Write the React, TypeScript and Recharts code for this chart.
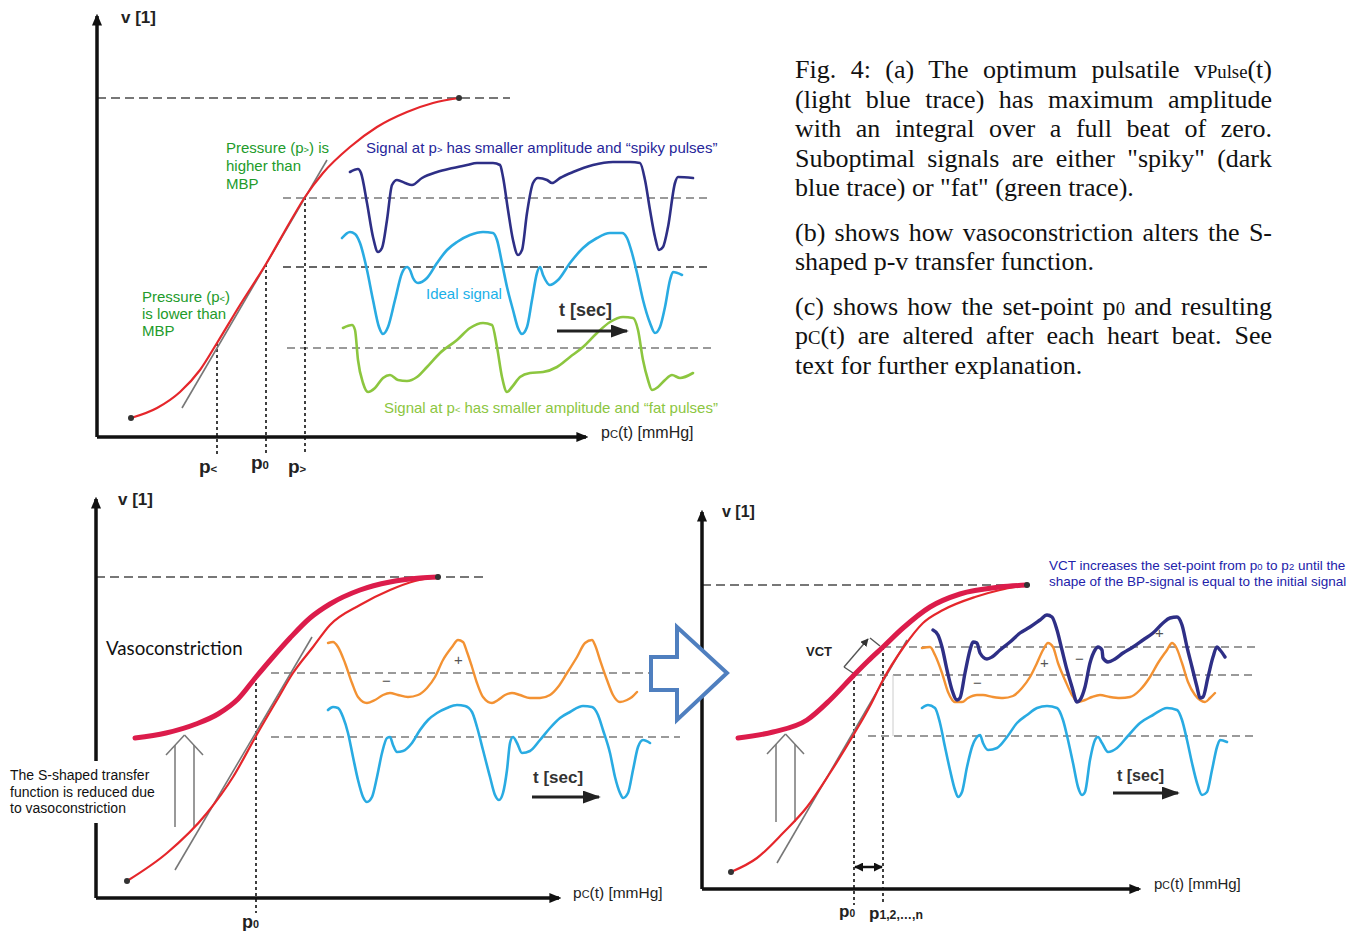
import React from "react";
import { ComposedChart, Line, XAxis, YAxis, ReferenceLine, ReferenceDot } from "recharts";

type Pt = [number, number];

// all panels use arbitrary p / v units, origin at the axis corner

// ---- (a) transfer function and the three pulse shapes
const curveA: Pt[] = [[34, 19], [60, 29], [83, 45], [103, 67], [120, 94], [143, 132], [169, 173], [193, 215], [208, 240], [226, 264], [253, 290], [280, 310], [310, 325], [336, 334], [362, 339]];
const tangentA: Pt[] = [[85, 29], [230, 277]];
const spikyA: Pt[] = [[253, 265], [261, 268], [264, 264], [270, 234], [276, 200], [281, 185], [285, 189], [290, 217], [295, 252], [300, 257], [308, 254], [315, 252], [325, 259], [340, 265], [356, 269], [370, 272], [380, 274], [396, 274], [403, 272], [406, 260], [411, 227], [416, 197], [421, 182], [425, 187], [430, 224], [436, 254], [441, 259], [450, 257], [455, 254], [463, 259], [476, 265], [496, 272], [516, 275], [533, 275], [543, 274], [548, 257], [553, 227], [558, 200], [562, 187], [566, 190], [571, 210], [578, 254], [581, 260], [596, 259]];
const idealA: Pt[] = [[245, 199], [253, 205], [258, 203], [263, 194], [270, 167], [276, 137], [282, 110], [286, 103], [291, 110], [298, 137], [305, 164], [310, 170], [313, 167], [316, 159], [321, 154], [330, 159], [340, 174], [350, 187], [360, 195], [373, 202], [386, 205], [396, 204], [400, 197], [405, 174], [410, 150], [416, 127], [421, 109], [425, 103], [430, 110], [435, 137], [440, 164], [443, 170], [446, 162], [453, 152], [461, 157], [473, 174], [486, 189], [500, 199], [513, 204], [525, 204], [530, 199], [535, 184], [540, 164], [546, 137], [553, 114], [558, 104], [563, 110], [568, 130], [573, 157], [576, 165], [585, 162]];
const fatA: Pt[] = [[246, 109], [255, 112], [258, 107], [261, 77], [266, 54], [271, 45], [278, 49], [286, 59], [293, 62], [301, 57], [310, 56], [320, 60], [330, 70], [343, 84], [360, 97], [373, 109], [386, 114], [395, 112], [400, 90], [405, 60], [410, 45], [415, 50], [423, 60], [433, 64], [446, 65], [460, 70], [473, 80], [486, 90], [500, 104], [513, 115], [526, 120], [536, 119], [541, 107], [546, 77], [551, 57], [555, 47], [561, 50], [568, 57], [575, 62], [583, 59], [596, 64]];
const pointsA = [120, 169, 208]; // p<, p0, p>
const pointsAv = [94, 173, 240];
const levelsA = [239, 170, 89];
const vMaxA = 339;

// ---- (b) vasoconstriction
const thinB: Pt[] = [[31, 17], [71, 45], [111, 85], [137, 121], [160, 162], [181, 198], [197, 225], [217, 251], [234, 273], [264, 293], [294, 308], [319, 317], [342, 321]];
const thickB: Pt[] = [[39, 160], [70, 165], [100, 174], [122, 184], [142, 199], [160, 221], [177, 241], [194, 260], [214, 280], [234, 294], [264, 308], [294, 316], [324, 320], [342, 321]];
const tangentB: Pt[] = [[79, 28], [216, 261]];
const orangeB: Pt[] = [[232, 255], [237, 256], [242, 251], [249, 235], [256, 215], [262, 201], [271, 195], [279, 198], [287, 203], [294, 205], [302, 203], [312, 201], [322, 203], [331, 210], [339, 221], [347, 238], [356, 251], [362, 258], [367, 256], [371, 246], [376, 231], [381, 215], [387, 201], [396, 195], [402, 198], [409, 203], [416, 205], [424, 203], [434, 200], [444, 200], [454, 203], [462, 211], [471, 225], [481, 241], [489, 255], [496, 258], [499, 253], [504, 238], [511, 218], [517, 203], [524, 196], [531, 198], [536, 201], [541, 206]];
const idealB: Pt[] = [[232, 188], [237, 191], [242, 190], [247, 181], [252, 165], [257, 141], [262, 118], [267, 101], [271, 96], [276, 101], [281, 121], [286, 145], [291, 160], [294, 161], [297, 153], [301, 146], [307, 147], [316, 155], [324, 168], [332, 178], [341, 185], [351, 190], [361, 193], [369, 192], [376, 186], [381, 171], [387, 148], [394, 121], [399, 103], [403, 98], [407, 105], [411, 128], [414, 155], [417, 161], [421, 155], [426, 145], [434, 147], [444, 158], [454, 170], [464, 180], [474, 186], [487, 192], [496, 191], [502, 183], [507, 168], [514, 145], [519, 121], [524, 105], [527, 100], [532, 105], [537, 128], [542, 151], [547, 158], [554, 155]];
const p0B = 160;
const levelsB = [225, 161];
const vMaxB = 321;

// ---- (c) set-point shift after VCT
const thinC: Pt[] = [[29, 17], [55, 31], [81, 56], [105, 82], [128, 116], [152, 155], [168, 183], [181, 209], [201, 241], [221, 266], [241, 279], [273, 292], [298, 299], [325, 304]];
const thickC: Pt[] = [[36, 151], [71, 157], [105, 169], [128, 189], [152, 214], [166, 228], [181, 242], [201, 261], [228, 282], [258, 295], [298, 302], [325, 304]];
const tangentC: Pt[] = [[75, 26], [205, 249]];
const spikyC: Pt[] = [[231, 259], [236, 254], [240, 242], [245, 219], [250, 199], [255, 189], [258, 191], [263, 216], [268, 239], [271, 247], [275, 246], [278, 236], [285, 230], [290, 232], [298, 239], [308, 247], [318, 256], [328, 262], [338, 269], [345, 274], [350, 272], [355, 259], [360, 239], [365, 219], [370, 202], [375, 187], [378, 189], [383, 202], [388, 226], [393, 239], [396, 242], [400, 239], [401, 231], [406, 227], [413, 230], [421, 236], [431, 242], [441, 249], [451, 256], [461, 266], [468, 271], [475, 272], [480, 264], [485, 242], [490, 222], [495, 202], [498, 191], [501, 192], [506, 212], [511, 232], [515, 242], [518, 239], [523, 232]];
const orangeC: Pt[] = [[220, 241], [228, 242], [233, 234], [240, 216], [246, 197], [253, 187], [260, 187], [266, 191], [275, 194], [281, 194], [291, 192], [301, 191], [311, 193], [320, 201], [328, 212], [335, 226], [341, 239], [346, 246], [351, 242], [356, 226], [363, 209], [370, 194], [376, 187], [383, 189], [390, 192], [398, 194], [408, 192], [418, 191], [428, 192], [438, 199], [448, 212], [456, 226], [465, 239], [470, 246], [474, 242], [480, 226], [486, 207], [493, 194], [498, 189], [503, 187], [508, 191], [513, 196]];
const idealC: Pt[] = [[220, 181], [226, 184], [233, 181], [238, 166], [243, 142], [248, 119], [253, 99], [256, 92], [260, 97], [265, 122], [270, 142], [275, 152], [278, 154], [281, 146], [286, 139], [295, 141], [305, 152], [315, 166], [325, 174], [335, 181], [345, 183], [355, 181], [361, 169], [366, 149], [371, 126], [376, 102], [380, 94], [383, 97], [388, 129], [393, 149], [396, 152], [400, 146], [406, 137], [415, 141], [425, 152], [438, 166], [451, 174], [465, 181], [475, 179], [480, 169], [485, 149], [490, 126], [495, 106], [500, 94], [505, 97], [510, 119], [515, 142], [518, 149], [525, 147]];
const pointsC = [152, 181]; // p0, p1,2,...,n
const levelsC = [242, 214, 153];
const vMaxC = 304;

const SANS = '"Liberation Sans", Arial, sans-serif';
const SERIF = '"Liberation Serif", "Times New Roman", serif';
const NARROW = '"Liberation Sans Narrow", "Liberation Sans", Arial, sans-serif';

const NAVY = "#2e2f86";
const SKY = "#29abe2";
const LIME = "#8cc63f";
const ORANGE = "#f39233";
const RED = "#e5262b";
const CRIMSON = "#dc1c4b";
const DASH = "#9a9a9a";

const pts = (a: Pt[]) => a.map(([p, v]) => ({ p, v }));

const trace = (key: string, data: Pt[], stroke: string, width: number) => (
  <Line
    key={key}
    data={pts(data)}
    dataKey="v"
    type="monotone"
    stroke={stroke}
    strokeWidth={width}
    strokeLinecap="round"
    strokeLinejoin="round"
    dot={false}
    activeDot={false}
    isAnimationActive={false}
  />
);

type SegOpts = { dash?: string; end?: string; start?: string };
const seg = (key: string, a: Pt, b: Pt, stroke: string, width: number, o: SegOpts = {}) => (
  <ReferenceLine
    key={key}
    segment={[{ x: a[0], y: a[1] }, { x: b[0], y: b[1] }]}
    ifOverflow="visible"
    shape={(p: any) => (
      <line
        x1={p.x1}
        y1={p.y1}
        x2={p.x2}
        y2={p.y2}
        stroke={stroke}
        strokeWidth={width}
        strokeDasharray={o.dash}
        markerEnd={o.end ? `url(#${o.end})` : undefined}
        markerStart={o.start ? `url(#${o.start})` : undefined}
      />
    )}
  />
);

const dot = (key: string, at: Pt) => (
  <ReferenceDot key={key} x={at[0]} y={at[1]} r={3} fill="#333" stroke="none" ifOverflow="visible" />
);

const markers = (id: string) => (
  <defs>
    <marker id={`${id}-ax`} viewBox="0 0 10 10" refX="8" refY="5" markerWidth="12" markerHeight="10" markerUnits="userSpaceOnUse" orient="auto" preserveAspectRatio="none">
      <path d="M0,0 L10,5 L0,10 z" fill="#111" />
    </marker>
    <marker id={`${id}-t`} viewBox="0 0 10 10" refX="9" refY="5" markerWidth="18" markerHeight="13" markerUnits="userSpaceOnUse" orient="auto" preserveAspectRatio="none">
      <path d="M0,0 L10,5 L0,10 z" fill="#222" />
    </marker>
    <marker id={`${id}-d`} viewBox="0 0 10 10" refX="9" refY="5" markerWidth="9" markerHeight="9" markerUnits="userSpaceOnUse" orient="auto-start-reverse" preserveAspectRatio="none">
      <path d="M0,0 L10,5 L0,10 z" fill="#111" />
    </marker>
    <marker id={`${id}-s`} viewBox="0 0 10 10" refX="9" refY="5" markerWidth="8" markerHeight="8" markerUnits="userSpaceOnUse" orient="auto" preserveAspectRatio="none">
      <path d="M0,0 L10,5 L0,10 z" fill="#333" />
    </marker>
  </defs>
);

type Box = { left: number; top: number; width: number; height: number; x: [number, number]; y: [number, number] };
const boxA: Box = { left: 0, top: 0, width: 780, height: 480, x: [-97, 683], y: [-43, 437] };
const boxB: Box = { left: 0, top: 485, width: 690, height: 446, x: [-96, 594], y: [-33, 413] };
const boxC: Box = { left: 690, top: 495, width: 671, height: 436, x: [-12, 659], y: [-42, 394] };

function Panel({ box, id, children }: { box: Box; id: string; children: React.ReactNode }) {
  return (
    <div style={{ position: "absolute", left: box.left, top: box.top }}>
      <ComposedChart width={box.width} height={box.height} margin={{ top: 0, right: 0, bottom: 0, left: 0 }}>
        {markers(id)}
        <XAxis type="number" dataKey="p" domain={box.x} hide allowDataOverflow />
        <YAxis type="number" domain={box.y} hide allowDataOverflow />
        {children}
      </ComposedChart>
    </div>
  );
}

const axes = (id: string, xEnd: number, yEnd: number) => [
  seg(`${id}-yax`, [0, 0], [0, yEnd], "#111", 3.5, { end: `${id}-ax` }),
  seg(`${id}-xax`, [0, 0], [xEnd, 0], "#111", 3.5, { end: `${id}-ax` }),
];

const hollowUp = (id: string, l: number, r: number, base: number, top: number, tip: number) => {
  const mid = (l + r) / 2;
  const hw = (r - l) / 2 + 9;
  return [
    seg(`${id}-u1`, [l, base], [l, top], "#777", 1.5),
    seg(`${id}-u2`, [r, base], [r, top], "#777", 1.5),
    seg(`${id}-u3`, [mid - hw, tip - 20], [mid, tip], "#777", 1.5),
    seg(`${id}-u4`, [mid, tip], [mid + hw, tip - 20], "#777", 1.5),
  ];
};

function Txt({ x, y, size, color = "#222", bold, family = SANS, lh, children, style }: any) {
  const h = lh ?? size * 1.2;
  return (
    <div
      style={{
        position: "absolute",
        left: x,
        top: y - h / 2,
        fontSize: size,
        lineHeight: `${h}px`,
        color,
        fontWeight: bold ? 700 : 400,
        fontFamily: family,
        whiteSpace: "nowrap",
        ...style,
      }}
    >
      {children}
    </div>
  );
}

const Sm = ({ children, s = 0.62 }: any) => <span style={{ fontSize: `${s}em`, lineHeight: 1 }}>{children}</span>;

const pc = (
  <>
    p<Sm s={0.7}>C</Sm>(t) [mmHg]
  </>
);

export default function App() {
  return (
    <div style={{ position: "absolute", left: 0, top: 0, width: 1361, height: 931, background: "#fff", overflow: "hidden" }}>
      {/* (a) */}
      <Panel box={boxA} id="a">
        {seg("a-top", [0, vMaxA], [413, vMaxA], "#777", 2, { dash: "9 5" })}
        {seg("a-l0", [186, levelsA[0]], [615, levelsA[0]], DASH, 2, { dash: "8 5" })}
        {seg("a-l1", [186, levelsA[1]], [615, levelsA[1]], "#666", 2, { dash: "8 5" })}
        {seg("a-l2", [190, levelsA[2]], [618, levelsA[2]], DASH, 2, { dash: "8 5" })}
        {pointsA.map((p, i) => seg(`a-pv${i}`, [p, pointsAv[i]], [p, -18], "#111", 1.6, { dash: "3 3" }))}
        {seg("a-tan", tangentA[0], tangentA[1], "#777", 1.6)}
        {trace("a-curve", curveA, RED, 2.2)}
        {dot("a-d0", curveA[0])}
        {dot("a-d1", curveA[curveA.length - 1])}
        {trace("a-spiky", spikyA, NAVY, 2.6)}
        {trace("a-ideal", idealA, SKY, 2.6)}
        {trace("a-fat", fatA, LIME, 2.6)}
        {seg("a-t", [460, 106], [530, 106], "#222", 3, { end: "a-t" })}
        {axes("a", 489, 421)}
      </Panel>

      {/* (b) */}
      <Panel box={boxB} id="b">
        {seg("b-top", [0, vMaxB], [390, vMaxB], "#777", 2, { dash: "9 5" })}
        {seg("b-l0", [175, levelsB[0]], [584, levelsB[0]], DASH, 2, { dash: "8 5" })}
        {seg("b-l1", [175, levelsB[1]], [584, levelsB[1]], DASH, 2, { dash: "8 5" })}
        {seg("b-p0", [p0B, 221], [p0B, -15], "#111", 1.6, { dash: "3 3" })}
        {seg("b-tan", tangentB[0], tangentB[1], "#777", 1.6)}
        {hollowUp("b", 79, 98, 71, 153, 163)}
        {trace("b-thin", thinB, RED, 2.2)}
        {trace("b-thick", thickB, CRIMSON, 5)}
        {dot("b-d0", thinB[0])}
        {dot("b-d1", thinB[thinB.length - 1])}
        {trace("b-orange", orangeB, ORANGE, 2.4)}
        {trace("b-ideal", idealB, SKY, 2.6)}
        {seg("b-t", [436, 101], [503, 101], "#222", 3, { end: "b-t" })}
        {axes("b", 463, 399)}
      </Panel>

      {/* (c) */}
      <Panel box={boxC} id="c">
        {seg("c-top", [0, vMaxC], [328, vMaxC], "#777", 2, { dash: "9 5" })}
        {seg("c-l0", [181, levelsC[0]], [553, levelsC[0]], DASH, 2, { dash: "8 5" })}
        {seg("c-l1", [152, levelsC[1]], [553, levelsC[1]], DASH, 2, { dash: "8 5" })}
        {seg("c-l2", [166, levelsC[2]], [553, levelsC[2]], DASH, 2, { dash: "8 5" })}
        {seg("c-fv", [191, levelsC[1]], [191, levelsC[2]], "#ccc", 1)}
        {seg("c-p0", [pointsC[0], 214], [pointsC[0], -16], "#111", 1.6, { dash: "3 3" })}
        {seg("c-p1", [pointsC[1], 242], [pointsC[1], -16], "#111", 1.6, { dash: "3 3" })}
        {seg("c-dbl", [pointsC[0] + 1, 22], [pointsC[1] - 1, 22], "#111", 2.5, { start: "c-d", end: "c-d" })}
        {seg("c-tan", tangentC[0], tangentC[1], "#777", 1.6)}
        {hollowUp("c", 74, 93, 67, 145, 155)}
        {seg("c-v1", [154, 214], [142, 222], "#555", 1.4)}
        {seg("c-v2", [142, 222], [166, 250], "#555", 1.4, { end: "c-s" })}
        {seg("c-v3", [168, 251], [178, 243], "#555", 1.4)}
        {trace("c-thin", thinC, RED, 2.2)}
        {trace("c-thick", thickC, CRIMSON, 5)}
        {dot("c-d0", thinC[0])}
        {dot("c-d1", thinC[thinC.length - 1])}
        {trace("c-orange", orangeC, ORANGE, 2.4)}
        {trace("c-spiky", spikyC, NAVY, 3.4)}
        {trace("c-ideal", idealC, SKY, 2.6)}
        {seg("c-t", [411, 96], [476, 96], "#222", 3, { end: "c-t" })}
        {axes("c", 437, 377)}
      </Panel>

      {/* hollow arrow between (b) and (c) */}
      <svg style={{ position: "absolute", left: 640, top: 615 }} width={100} height={120}>
        <polygon points="11,42 37,42 37,12 87,58 37,105 37,75 11,75" fill="#fff" stroke="#4f7fbf" strokeWidth={4} strokeLinejoin="miter" />
      </svg>

      {/* (a) labels */}
      <Txt x={121} y={18} size={17} bold>v [1]</Txt>
      <Txt x={226} y={148} size={15} lh={18} color="#229b2b">
        Pressure (p<Sm>&gt;</Sm>) is
        <br />
        higher than
        <br />
        MBP
      </Txt>
      <Txt x={142} y={296} size={15} lh={17} color="#229b2b">
        Pressure (p<Sm>&lt;</Sm>)
        <br />
        is lower than
        <br />
        MBP
      </Txt>
      <Txt x={366} y={148} size={15} color="#26269a">
        Signal at p<Sm>&gt;</Sm> has smaller amplitude and “spiky pulses”
      </Txt>
      <Txt x={426} y={294} size={15} color="#1ab0e8">Ideal signal</Txt>
      <Txt x={559} y={311} size={18} bold family={NARROW} color="#333">t [sec]</Txt>
      <Txt x={384} y={408} size={15} color={LIME}>
        Signal at p<Sm>&lt;</Sm> has smaller amplitude and “fat pulses”
      </Txt>
      <Txt x={601} y={433} size={16}>{pc}</Txt>
      <Txt x={199} y={467} size={19} bold>p<Sm s={0.6}>&lt;</Sm></Txt>
      <Txt x={251} y={463} size={19} bold>p<Sm s={0.6}>0</Sm></Txt>
      <Txt x={288} y={467} size={19} bold>p<Sm s={0.6}>&gt;</Sm></Txt>

      {/* (b) labels */}
      <Txt x={118} y={500} size={17} bold>v [1]</Txt>
      <Txt x={106} y={648} size={18.7} family='Lato, "Open Sans", sans-serif' color="#111">Vasoconstriction</Txt>
      <div
        style={{
          position: "absolute",
          left: 4,
          top: 761,
          padding: "6px 6px 6px 6px",
          background: "#fff",
          fontFamily: SANS,
          fontSize: 14,
          lineHeight: "16.5px",
          color: "#111",
          whiteSpace: "nowrap",
        }}
      >
        The S-shaped transfer
        <br />
        function is reduced due
        <br />
        to vasoconstriction
      </div>
      <Txt x={382} y={681} size={15} color="#555">−</Txt>
      <Txt x={454} y={660} size={15} color="#555">+</Txt>
      <Txt x={533} y={778} size={17} bold family={NARROW} color="#333">t [sec]</Txt>
      <Txt x={573} y={893} size={15.5}>{pc}</Txt>
      <Txt x={242} y={923} size={18} bold>p<Sm s={0.6}>0</Sm></Txt>

      {/* (c) labels */}
      <Txt x={722} y={512} size={16} bold>v [1]</Txt>
      <Txt x={1049} y={566} size={13.5} lh={16} color="#2222aa">
        VCT increases the set-point from p<Sm s={0.7}>0</Sm> to p<Sm s={0.7}>2</Sm> until the
        <br />
        shape of the BP-signal is equal to the initial signal
      </Txt>
      <Txt x={806} y={652} size={13} bold>VCT</Txt>
      <Txt x={973} y={683} size={15} color="#555">−</Txt>
      <Txt x={1075} y={659} size={15} color="#555">−</Txt>
      <Txt x={1040} y={663} size={15} color="#555">+</Txt>
      <Txt x={1155} y={633} size={15} color="#555">+</Txt>
      <Txt x={1117} y={776} size={16} bold family={NARROW} color="#333">t [sec]</Txt>
      <Txt x={1154} y={884} size={15}>{pc}</Txt>
      <Txt x={839} y={912} size={17} bold>p<Sm s={0.6}>0</Sm></Txt>
      <Txt x={869} y={914} size={17} bold>p<Sm s={0.72}>1,2,…,n</Sm></Txt>

      {/* caption */}
      <div
        style={{
          position: "absolute",
          left: 795,
          top: 55,
          width: 477,
          fontFamily: SERIF,
          fontSize: 26,
          lineHeight: "29.5px",
          color: "#111",
          textAlign: "justify",
        }}
      >
        <p style={{ margin: 0 }}>
          Fig. 4: (a) The optimum pulsatile v<Sm s={0.72}>Pulse</Sm>(t) (light blue trace) has maximum amplitude with an
          integral over a full beat of zero. Suboptimal signals are either "spiky" (dark blue trace) or "fat" (green
          trace).
        </p>
        <p style={{ margin: "15px 0 0 0" }}>(b) shows how vasoconstriction alters the S-shaped p-v transfer function.</p>
        <p style={{ margin: "15px 0 0 0" }}>
          (c) shows how the set-point p<Sm s={0.72}>0</Sm> and resulting p<Sm s={0.72}>C</Sm>(t) are altered after each
          heart beat. See text for further explanation.
        </p>
      </div>
    </div>
  );
}
